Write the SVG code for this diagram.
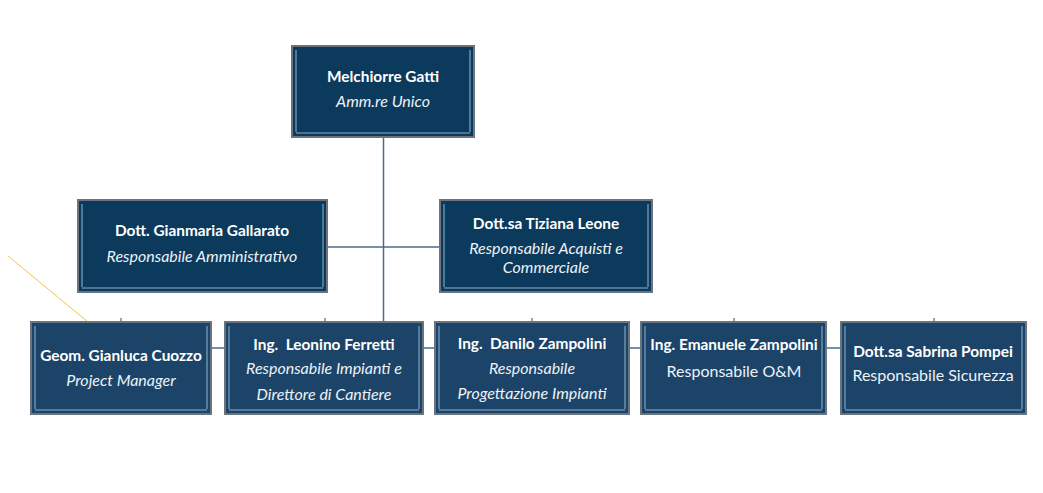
<svg xmlns="http://www.w3.org/2000/svg" width="1043" height="493" viewBox="0 0 1043 493">
<defs>
<style>
.box{stroke:#6b747d;stroke-width:2}
.top{fill:#0c3a5d}
.low{fill:#1c4468}
.bev{fill:none;stroke:#8fb2cf;stroke-width:1.6;opacity:0.65}
.t{font-family:Lato,"Liberation Sans",sans-serif;font-size:15.4px;font-weight:bold;fill:#ffffff;text-anchor:middle}
.s{font-family:Lato,"Liberation Sans",sans-serif;font-size:16px;font-style:italic;fill:#eef2f7;text-anchor:middle}
.n{font-family:Lato,"Liberation Sans",sans-serif;font-size:16px;fill:#eef2f7;text-anchor:middle}
.c{stroke:#4b6a8c;stroke-width:1.5;fill:none}
.tick{stroke:#444;stroke-width:1}
</style>
</defs>
<rect width="1043" height="493" fill="#ffffff"/>
<g id="connectors">
<line class="c" x1="383.5" y1="137" x2="383.5" y2="322"/>
<line class="c" x1="327" y1="247" x2="440" y2="247"/>
<line class="c" x1="211" y1="348" x2="225" y2="348"/>
<line class="c" x1="423" y1="348" x2="435" y2="348"/>
<line class="c" x1="629" y1="348" x2="641" y2="348"/>
<line class="c" x1="826" y1="348" x2="841" y2="348"/>
<line class="tick" x1="121" y1="318" x2="121" y2="322"/>
<line class="tick" x1="325" y1="318" x2="325" y2="322"/>
<line class="tick" x1="532" y1="318" x2="532" y2="322"/>
<line class="tick" x1="734" y1="318" x2="734" y2="322"/>
<line class="tick" x1="934" y1="318" x2="934" y2="322"/>
<line x1="8" y1="256" x2="88" y2="322" stroke="#f0c64a" stroke-width="1"/>
</g>
<g id="n1">
<rect class="box top" x="292" y="46" width="182" height="91"/>
<path class="bev" d="M296,50 V132 M470,50 V132 M296,133 H470"/>
<text class="t" x="383" y="82">Melchiorre Gatti</text>
<text class="s" x="383" y="107">Amm.re Unico</text>
</g>
<g id="n2">
<rect class="box top" x="78" y="200" width="249" height="92"/>
<path class="bev" d="M82,204 V287 M323,204 V287 M82,288 H323"/>
<text class="t" x="202" y="236">Dott. Gianmaria Gallarato</text>
<text class="s" x="202" y="262">Responsabile Amministrativo</text>
</g>
<g id="n3">
<rect class="box top" x="440" y="200" width="212" height="92"/>
<path class="bev" d="M444,204 V287 M648,204 V287 M444,288 H648"/>
<text class="t" x="546" y="229">Dott.sa Tiziana Leone</text>
<text class="s" x="546" y="254">Responsabile Acquisti e</text>
<text class="s" x="546" y="273">Commerciale</text>
</g>
<g id="n4">
<rect class="box low" x="31" y="322" width="180" height="92"/>
<path class="bev" d="M35,326 V409 M207,326 V409 M35,410 H207"/>
<text class="t" x="121" y="361">Geom. Gianluca Cuozzo</text>
<text class="s" x="121" y="386">Project Manager</text>
</g>
<g id="n5">
<rect class="box low" x="225" y="322" width="198" height="92"/>
<path class="bev" d="M229,326 V409 M419,326 V409 M229,410 H419"/>
<text class="t" x="324" y="350" xml:space="preserve">Ing.  Leonino Ferretti</text>
<text class="s" x="324" y="374">Responsabile Impianti e</text>
<text class="s" x="324" y="400">Direttore di Cantiere</text>
</g>
<g id="n6">
<rect class="box low" x="435" y="322" width="194" height="92"/>
<path class="bev" d="M439,326 V409 M625,326 V409 M439,410 H625"/>
<text class="t" x="532" y="349" xml:space="preserve">Ing.  Danilo Zampolini</text>
<text class="s" x="532" y="374">Responsabile</text>
<text class="s" x="532" y="399">Progettazione Impianti</text>
</g>
<g id="n7">
<rect class="box low" x="641" y="322" width="185" height="92"/>
<path class="bev" d="M645,326 V409 M822,326 V409 M645,410 H822"/>
<text class="t" x="734" y="350">Ing. Emanuele Zampolini</text>
<text class="n" x="734" y="377">Responsabile O&amp;M</text>
</g>
<g id="n8">
<rect class="box low" x="841" y="322" width="185" height="92"/>
<path class="bev" d="M845,326 V409 M1022,326 V409 M845,410 H1022"/>
<text class="t" x="933" y="357">Dott.sa Sabrina Pompei</text>
<text class="n" x="933" y="381">Responsabile Sicurezza</text>
</g>
</svg>
